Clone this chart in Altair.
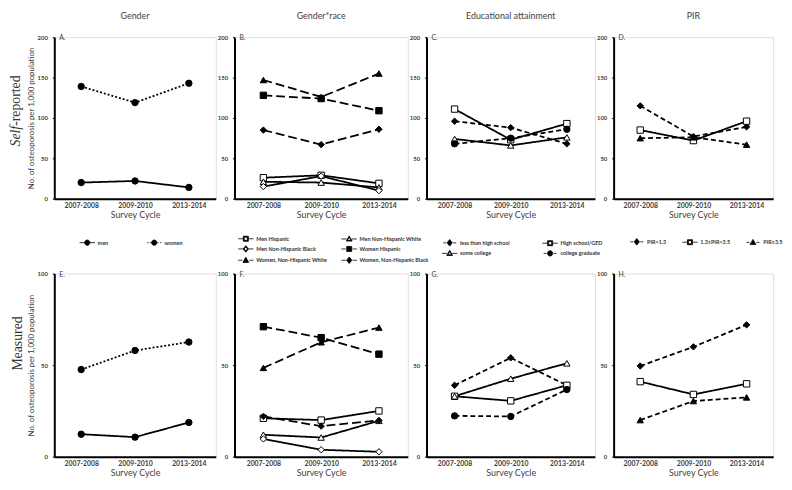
import altair as alt
import pandas as pd

cycles = ["2007-2008", "2009-2010", "2013-2014"]

# Panel A / E : gender
gender_series = ["men", "women"]
gender_self = [[20, 22, 14], [139, 119, 143]]
gender_meas = [[12.3, 10.7, 18.7], [47.6, 58, 62.6]]
gender_marker = ["circle", "circle"]
gender_filled = [True, True]
gender_dash = ["solid", "dotted"]

# Panel B / F : gender*race
race_series = ["Men Hispanic", "Men Non-Hispanic White", "Men Non-Hispanic Black",
               "Women Hispanic", "Women, Non-Hispanic White", "Women, Non-Hispanic Black"]
race_self = [[26, 29, 19], [21, 20, 14], [15, 28, 10],
             [128, 124, 109], [147, 126, 155], [85, 67, 86]]
race_meas = [[21, 20, 25], [12, 10.5, 19.6], [9.7, 3.8, 2.7],
             [71, 65, 56], [48.5, 62.5, 70.5], [22, 16.7, 19.8]]
race_marker = ["square", "triangle-up", "diamond", "square", "triangle-up", "diamond"]
race_filled = [False, False, False, True, True, True]
race_dash = ["solid", "solid", "solid", "long", "long", "long"]

# Panel C / G : education
edu_series = ["less than high school", "High school/GED", "some college", "college graduate"]
edu_self = [[96, 88, 68], [111, 73, 93], [74, 66, 76], [68, 75, 86]]
edu_meas = [[39, 54, 39], [33, 30.5, 39], [33, 42.6, 51], [22.3, 22, 36.7]]
edu_marker = ["diamond", "square", "triangle-up", "circle"]
edu_filled = [True, False, False, True]
edu_dash = ["dash", "solid", "solid", "dash"]

# Panel D / H : PIR
pir_series = ["PIR<1.3", "1.3≤PIR<3.5", "PIR≥3.5"]
pir_self = [[115, 77, 89], [85, 72, 96], [75, 76, 67]]
pir_meas = [[49.5, 60, 72], [41, 34, 39.8], [20, 30.4, 32.4]]
pir_marker = ["diamond", "square", "triangle-up"]
pir_filled = [True, False, True]
pir_dash = ["dash", "solid", "dash"]

col_titles = ["Gender", "Gender*race", "Educational attainment", "PIR"]
letters_top = ["A.", "B.", "C.", "D."]
letters_bottom = ["E.", "F.", "G.", "H."]
y_title = "No. of osteoporosis per 1,000 population"

FONT = "Lato"
GREY = "#404040"
DASH_NAMES = ["solid", "dotted", "long", "dash"]
LINE_DASH = {"solid": [1, 0], "dotted": [2, 2], "long": [9, 4], "dash": [5, 3]}
LEG_DASH = {"dotted": [1.3, 1.3], "long": [4.5, 2], "dash": [3, 2]}
SYM_SIZE = 36
U = (SYM_SIZE ** 0.5) / 2.0  # px per path unit


def fmt(v):
    s = f"{v:.3f}".rstrip("0").rstrip(".")
    return "0" if s in ("-0", "") else s


def poly(verts):
    return "M" + "L".join(f"{fmt(a)},{fmt(b)}" for a, b in verts) + "Z"


def marker_verts(marker, m):
    if marker == "square":
        return [(-m, -m), (m, -m), (m, m), (-m, m)]
    if marker == "triangle-up":
        return [(0, -1.2 * m), (1.15 * m, 0.85 * m), (-1.15 * m, 0.85 * m)]
    if marker == "diamond":
        return [(0, -1.3 * m), (1.05 * m, 0), (0, 1.3 * m), (-1.05 * m, 0)]
    return None


def legend_path(marker, filled, dash):
    L, m = 2.6, 0.85
    parts = []
    if dash == "solid":
        segs = [(m, L)]
    else:
        on, off = [d / U for d in LEG_DASH[dash]]
        segs, pos = [], m + off * 0.5
        while pos < L:
            segs.append((pos, min(pos + on, L)))
            pos += on + off
    for a, b in segs:
        parts.append(f"M{fmt(a)},0H{fmt(b)}")
        parts.append(f"M{fmt(-b)},0H{fmt(-a)}")
    if marker == "circle":
        r = m * 1.05
        parts.append(f"M{fmt(-r)},0A{fmt(r)},{fmt(r)},0,1,1,{fmt(r)},0A{fmt(r)},{fmt(r)},0,1,1,{fmt(-r)},0Z")
    else:
        v = marker_verts(marker, m)
        parts.append(poly(v))
        if not filled:
            s = 0.62
            parts.append(poly([(a * s, b * s) for a, b in reversed(v)]))
    return "".join(parts)


def make_df(series, values, markers, filled, dashes):
    rows = []
    for s, vals, mk, fl, d in zip(series, values, markers, filled, dashes):
        for c, v in zip(cycles, vals):
            rows.append({"series": s, "cycle": c, "value": v, "marker": mk,
                         "fillc": "black" if fl else "white", "dash": d})
    return pd.DataFrame(rows)


def text_layer(txt, x, y, size, font=FONT, angle=0, align="left", style="normal", color=GREY):
    return alt.Chart(pd.DataFrame({"t": [txt]})).mark_text(
        font=font, fontSize=size, color=color, align=align, baseline="middle",
        angle=angle, fontStyle=style
    ).encode(text="t:N", x=alt.value(x), y=alt.value(y))


def panel(series, values, markers, filled, dashes, ymax, yvals, width, height, letter,
          col_title=None, legend_opts=None, ytitle=None, rowlabel=None):
    df = make_df(series, values, markers, filled, dashes)
    base = alt.Chart(df)
    x = alt.X("cycle:N", sort=cycles, scale=alt.Scale(type="point", padding=0.5),
              axis=alt.Axis(title="Survey Cycle", labelAngle=0, ticks=False, domainColor="black",
                            domainWidth=2, labelFont=FONT, labelFontSize=7, labelFontWeight="bold",
                            labelColor=GREY, labelPadding=3, titleFont=FONT, titleFontSize=9,
                            titleFontWeight="normal", titleColor=GREY, titlePadding=2))
    ykw = dict(values=yvals, grid=False, domainColor="black", domainWidth=2, tickColor="black",
               tickSize=2, tickWidth=1, labelFont=FONT, labelFontSize=6, labelFontWeight="bold",
               labelColor=GREY, labelPadding=5, minExtent=0)
    if ytitle:
        ykw.update(title=ytitle, titleFont=FONT, titleFontSize=8, titleFontWeight="normal",
                   titleColor=GREY, titlePadding=2)
    else:
        ykw.update(title=None)
    y = alt.Y("value:Q", scale=alt.Scale(domain=[0, ymax], nice=False), axis=alt.Axis(**ykw))
    lines = base.mark_line(color="black", strokeWidth=1.8).encode(
        x=x, y=y, detail="series:N",
        strokeDash=alt.StrokeDash("dash:N", scale=alt.Scale(domain=DASH_NAMES,
                                                            range=[LINE_DASH[d] for d in DASH_NAMES]),
                                  legend=None))
    points = base.mark_point(filled=True, stroke="black", strokeWidth=1, size=42, opacity=1).encode(
        x=x, y=y, shape=alt.Shape("marker:N", scale=None), fill=alt.Fill("fillc:N", scale=None))
    layers = [lines, points]
    if legend_opts:
        paths = [legend_path(mk, fl, d) for mk, fl, d in zip(markers, filled, dashes)]
        leg = base.mark_point(filled=True, fill="black", stroke="black", strokeWidth=0.7, opacity=0).encode(
            x=x, y=y,
            shape=alt.Shape("series:N", scale=alt.Scale(domain=series, range=paths),
                            legend=alt.Legend(title=None, orient="none", padding=0, direction="horizontal",
                                              symbolSize=SYM_SIZE, symbolOpacity=1,
                                              symbolFillColor="black", symbolStrokeColor="black",
                                              symbolStrokeWidth=0.8, labelFont=FONT, labelFontSize=5.5,
                                              labelFontWeight="bold", labelColor="#333333",
                                              labelOffset=7, labelLimit=300, **legend_opts)))
        layers.append(leg)
    layers.append(text_layer(letter, 5, 1, 7))
    if rowlabel == "self":
        jy = height / 2 + 8
        layers.append(text_layer("Self", -39, jy, 14, font="Liberation Serif", angle=270,
                                 align="right", style="italic", color="#333333"))
        layers.append(text_layer("-reported", -39, jy, 14, font="Liberation Serif", angle=270,
                                 align="left", color="#333333"))
    elif rowlabel == "meas":
        layers.append(text_layer("Measured", -37, height / 2 - 22, 14, font="Liberation Serif",
                                 angle=270, align="center", color="#333333"))
    ch = alt.layer(*layers).properties(width=width, height=height)
    if col_title:
        ch = ch.properties(title=alt.TitleParams(col_title, font=FONT, fontSize=9, fontWeight="normal",
                                                 color=GREY, offset=13, anchor="middle"))
    return ch


widths = [164, 176, 171, 162]
H_TOP, H_BOT = 164, 186

legA = dict(legendX=30, legendY=205, columns=2, columnPadding=37, rowPadding=0.5)
legB = dict(legendX=8, legendY=201, columns=2, columnPadding=13, rowPadding=0.5)
legC = dict(legendX=20, legendY=205, columns=2, columnPadding=31, rowPadding=0)
legD = dict(legendX=20, legendY=204, columns=3, columnPadding=14, rowPadding=0)

top = [
    panel(gender_series, gender_self, gender_marker, gender_filled, gender_dash, 200, [0, 50, 100, 150, 200],
          widths[0], H_TOP, letters_top[0], col_titles[0], legA, y_title, "self"),
    panel(race_series, race_self, race_marker, race_filled, race_dash, 200, [0, 50, 100, 150, 200],
          widths[1], H_TOP, letters_top[1], col_titles[1], legB),
    panel(edu_series, edu_self, edu_marker, edu_filled, edu_dash, 200, [0, 50, 100, 150, 200],
          widths[2], H_TOP, letters_top[2], col_titles[2], legC),
    panel(pir_series, pir_self, pir_marker, pir_filled, pir_dash, 200, [0, 50, 100, 150, 200],
          widths[3], H_TOP, letters_top[3], col_titles[3], legD),
]
bottom = [
    panel(gender_series, gender_meas, gender_marker, gender_filled, gender_dash, 100, [0, 50, 100],
          widths[0], H_BOT, letters_bottom[0], ytitle=y_title, rowlabel="meas"),
    panel(race_series, race_meas, race_marker, race_filled, race_dash, 100, [0, 50, 100],
          widths[1], H_BOT, letters_bottom[1]),
    panel(edu_series, edu_meas, edu_marker, edu_filled, edu_dash, 100, [0, 50, 100],
          widths[2], H_BOT, letters_bottom[2]),
    panel(pir_series, pir_meas, pir_marker, pir_filled, pir_dash, 100, [0, 50, 100],
          widths[3], H_BOT, letters_bottom[3]),
]

chart = alt.concat(*(top + bottom), columns=4, spacing={"row": 76, "column": 19},
                   bounds="flush", padding=0).resolve_scale(
    x="independent", y="independent", shape="independent", strokeDash="independent"
).resolve_legend(shape="independent").configure_view(stroke=None).configure(background="white")

chart.save("out.html", embed_options={"renderer": "svg", "actions": False})
